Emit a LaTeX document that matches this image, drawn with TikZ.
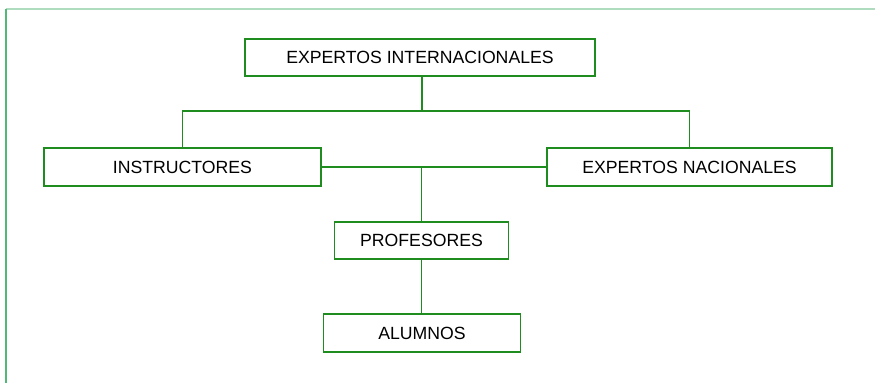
\documentclass[tikz,border=0pt]{standalone}
\usepackage{fontspec}
\setmainfont{Liberation Sans}
\definecolor{boxgreen}{RGB}{30,140,30}
\definecolor{framegreen}{RGB}{80,185,120}
\definecolor{framelight}{RGB}{175,220,190}
\begin{document}
\begin{tikzpicture}[x=0.6pt,y=-0.6pt,
    caja/.style={draw=boxgreen,line width=1.1pt,inner sep=0pt,
      text height=7.6pt,text depth=0pt,font=\fontsize{10.6}{12}\selectfont},
    linea/.style={draw=boxgreen,line width=1.1pt}]
       \useasboundingbox (0,0) rectangle (875,383);
       \draw[framelight,line width=1pt] (6.3,9) -- (875,9);
       \draw[framegreen,line width=1pt] (6.3,9) -- (6.3,383);
       \node[caja,minimum width=350*0.6pt,minimum height=37*0.6pt] (inter) at (420,57.5) {EXPERTOS INTERNACIONALES};
       \node[caja,minimum width=277*0.6pt,minimum height=38*0.6pt] (instr) at (182.5,167) {INSTRUCTORES};
       \node[caja,minimum width=285*0.6pt,minimum height=38*0.6pt] (nacio) at (689.5,167) {EXPERTOS NACIONALES};
       \node[caja,minimum width=174*0.6pt,minimum height=37*0.6pt] (profe) at (421.5,240.5) {PROFESORES};
       \node[caja,minimum width=197*0.6pt,minimum height=37.7*0.6pt] (alumn) at (422,333) {ALUMNOS};
       \coordinate (union) at (422,110.7);
       \coordinate (medio) at (421.5,167);
       \draw[linea] (inter.south -| union) -- (union);
       \draw[linea] (instr.north) |- (union) -| (nacio.north);
       \draw[linea] (instr) -- (nacio);
       \draw[linea] (medio) -- (profe.north);
       \draw[linea] (profe) -- (profe |- alumn.north);
     \end{tikzpicture}
\end{document}
